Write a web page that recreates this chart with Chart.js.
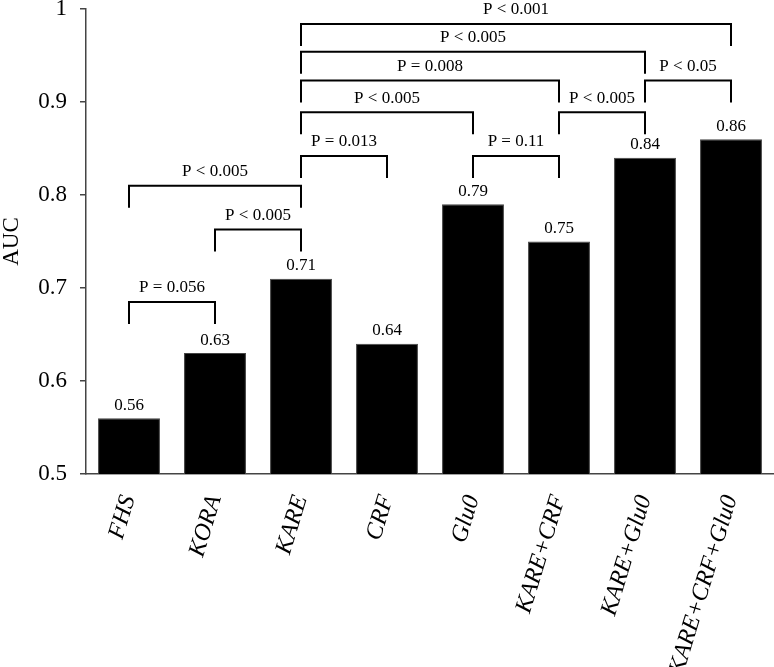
<!DOCTYPE html>
<html>
<head>
<meta charset="utf-8">
<script src="https://cdn.jsdelivr.net/npm/chart.js@4"></script>
<style>
  body { margin: 0; background: #fff; }
  #wrap { width: 774px; height: 667px; position: relative; }
</style>
</head>
<body>
<div id="wrap"><canvas id="chart"></canvas></div>
<script>
const categories = ["FHS", "KORA", "KARE", "CRF", "Glu0", "KARE+CRF", "KARE+Glu0", "KARE+CRF+Glu0"];
const aucValues = [0.56, 0.63, 0.71, 0.64, 0.79, 0.75, 0.84, 0.86];
const yTicks = [0.5, 0.6, 0.7, 0.8, 0.9, 1];

// significance brackets: from bar, to bar, level (AUC units), text
const bracketFrom = [0, 1, 0, 2, 4, 2, 5, 2, 6, 2, 2];
const bracketTo = [1, 2, 2, 3, 5, 4, 6, 5, 7, 6, 7];
const bracketLevel = [0.685, 0.763, 0.81, 0.842, 0.842, 0.889, 0.889, 0.923, 0.923, 0.954, 0.984];
const bracketText = [
  "P = 0.056", "P < 0.005", "P < 0.005", "P = 0.013", "P = 0.11", "P < 0.005",
  "P < 0.005", "P = 0.008", "P < 0.05", "P < 0.005", "P < 0.001",
];

const serif = "'Liberation Serif', 'Times New Roman', serif";

const annotations = {
  id: "annotations",
  afterDatasetsDraw(chart) {
    const ctx = chart.ctx;
    const x = chart.scales.x;
    const y = chart.scales.y;
    ctx.save();
    ctx.fillStyle = "#000";
    ctx.font = "17px " + serif;
    ctx.textAlign = "center";
    ctx.textBaseline = "middle";

    // value labels above bars
    aucValues.forEach((v, i) => {
      ctx.fillText(v.toFixed(2), x.getPixelForValue(i), y.getPixelForValue(v) - 13);
    });

    // brackets
    ctx.strokeStyle = "#000";
    ctx.lineWidth = 2;
    const leg = 22;
    bracketLevel.forEach((lvl, k) => {
      const x1 = x.getPixelForValue(bracketFrom[k]);
      const x2 = x.getPixelForValue(bracketTo[k]);
      const py = y.getPixelForValue(lvl);
      ctx.beginPath();
      ctx.moveTo(x1, py + leg);
      ctx.lineTo(x1, py);
      ctx.lineTo(x2, py);
      ctx.lineTo(x2, py + leg);
      ctx.stroke();
      ctx.fillText(bracketText[k], (x1 + x2) / 2, py - 14);
    });
    ctx.restore();
  },
};

new Chart(document.getElementById("chart"), {
  type: "bar",
  data: {
    labels: categories,
    datasets: [
      {
        label: "AUC",
        data: aucValues,
        backgroundColor: "#000",
        borderColor: "#444",
        borderWidth: 1,
        barPercentage: 0.72,
        categoryPercentage: 1,
      },
    ],
  },
  options: {
    responsive: true,
    maintainAspectRatio: false,
    animation: false,
    layout: { padding: { top: 9, right: 0, left: 0, bottom: 0 } },
    plugins: {
      legend: { display: false },
      tooltip: { enabled: false },
    },
    scales: {
      x: {
        grid: { display: false },
        border: { display: true, color: "#444", width: 1.5 },
        ticks: {
          color: "#000",
          autoSkip: false,
          minRotation: 73,
          maxRotation: 73,
          padding: 10,
          font: { family: serif, size: 24, style: "italic" },
        },
        afterFit: (scale) => {
          scale.height = 193;
          scale.paddingLeft = 0;
          scale.paddingRight = 0;
        },
      },
      y: {
        min: 0.5,
        max: 1,
        afterBuildTicks: (scale) => { scale.ticks = yTicks.map((v) => ({ value: v })); },
        grid: { drawOnChartArea: false, drawTicks: true, tickLength: 6, color: "#444", lineWidth: 1.5 },
        border: { display: true, color: "#444", width: 1.5 },
        ticks: {
          color: "#000",
          padding: 13,
          font: { family: serif, size: 23 },
          callback: (v) => String(v),
        },
        title: {
          display: true,
          text: "AUC",
          color: "#000",
          padding: 0,
          font: { family: serif, size: 23, lineHeight: 1 },
        },
        afterFit: (scale) => {
          scale.width = 86;
          scale.paddingTop = 0;
          scale.paddingBottom = 0;
        },
      },
    },
  },
  plugins: [annotations],
});
</script>
</body>
</html>
